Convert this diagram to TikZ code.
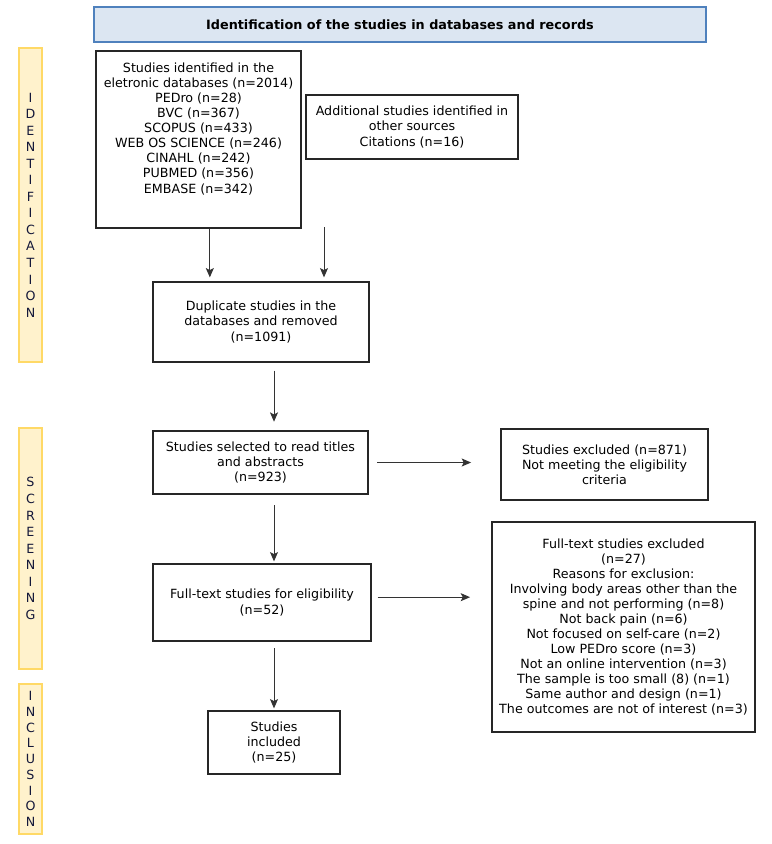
\documentclass[tikz,border=0pt]{standalone}
\usepackage{fontspec}
\setmainfont{DejaVu Sans}
\usetikzlibrary{arrows.meta}
\definecolor{headfill}{HTML}{DCE6F2}
\definecolor{headline}{HTML}{4F81BD}
\definecolor{barfill}{HTML}{FFF2CC}
\definecolor{barline}{HTML}{FFD966}
\definecolor{bartext}{HTML}{14183A}
\begin{document}
\begin{tikzpicture}[x=0.75pt,y=-0.75pt,
    every node/.style={font=\fontsize{9.5}{11.3}\selectfont},
    box/.style={rectangle,draw=black!85,line width=0.9pt,align=center,inner sep=0pt},
    head/.style={rectangle,draw=headline,fill=headfill,line width=1.1pt,inner sep=0pt,
      font=\fontsize{9.6}{11.3}\selectfont\bfseries},
    phase/.style={rectangle,draw=barline,fill=barfill,line width=0.9pt,minimum width=17.25pt,
      align=center,inner sep=0pt,text=bartext,font=\fontsize{9.5}{12.4}\selectfont},
    arr/.style={-{Stealth[length=7pt,width=6pt,inset=1.5pt]},line width=0.75pt,draw=black!80}]
  \useasboundingbox (0,0) rectangle (772,844);

  % title and phases
  \node[head,minimum width=459pt,minimum height=26.25pt] (title) at (400,24.5)
    {Identification of the studies in databases and records};
  \node[phase,minimum height=235.5pt] (ident) at (30.5,205)
    {I\\D\\E\\N\\T\\I\\F\\I\\C\\A\\T\\I\\O\\N};
  \node[phase,minimum height=180.75pt] (screen) at (30.5,548.5)
    {S\\C\\R\\E\\E\\N\\I\\N\\G};
  \node[phase,minimum height=112.5pt,font=\fontsize{9.5}{11.8}\selectfont] (incl) at (30.5,759)
    {I\\N\\C\\L\\U\\S\\I\\O\\N};

  % boxes
  \node[box,minimum width=153.75pt,minimum height=132.75pt] (dbs) at (198.5,139.5)
    {Studies identified in the\\eletronic databases (n=2014)\\PEDro (n=28)\\BVC (n=367)\\
     SCOPUS (n=433)\\WEB OS SCIENCE (n=246)\\CINAHL (n=242)\\PUBMED (n=356)\\EMBASE (n=342)\\[6pt]};
  \node[box,minimum width=159pt,minimum height=48pt] (other) at (412,127)
    {Additional studies identified in\\other sources\\Citations (n=16)};
  \node[box,minimum width=162pt,minimum height=60pt] (dup) at (261,322)
    {Duplicate studies in the\\databases and removed\\(n=1091)};
  \node[box,minimum width=161.25pt,minimum height=47.25pt] (titles) at (260.5,462.5)
    {Studies selected to read titles\\and abstracts\\(n=923)};
  \node[box,minimum width=155.25pt,minimum height=53.25pt] (excl) at (604.5,464.5)
    {Studies excluded (n=871)\\Not meeting the eligibility\\criteria};
  \node[box,minimum width=163.5pt,minimum height=57.75pt] (full) at (262,602.5)
    {Full-text studies for eligibility\\(n=52)};
  \node[box,minimum width=197.25pt,minimum height=157.5pt] (fullexcl) at (623.5,627)
    {Full-text studies excluded\\(n=27)\\Reasons for exclusion:\\
     Involving body areas other than the\\spine and not performing (n=8)\\
     Not back pain (n=6)\\Not focused on self-care (n=2)\\Low PEDro score (n=3)\\
     Not an online intervention (n=3)\\The sample is too small (8) (n=1)\\
     Same author and design (n=1)\\The outcomes are not of interest (n=3)};
  \node[box,minimum width=99pt,minimum height=47.25pt] (incd) at (274,742.5)
    {Studies\\included\\(n=25)};

  % arrows
  \coordinate (otherdown) at (324,227);
  \draw[arr,shorten >=3pt] ([xshift=8.5pt]dbs.south) -- ([xshift=8.5pt]dbs.south |- dup.north);
  \draw[arr,shorten >=3pt] (otherdown) -- (otherdown |- dup.north);
  \draw[arr,shorten <=6pt,shorten >=6.5pt] (dup.south -| incd) -- (titles.north -| incd);
  \draw[arr,shorten <=6.5pt,shorten >=22pt] (titles.east) -- (titles.east -| excl.west);
  \draw[arr,shorten <=8pt,shorten >=1.5pt] (titles.south -| incd) -- (full.north -| incd);
  \draw[arr,shorten <=4.5pt,shorten >=16pt] ([yshift=4pt]full.east) -- ([yshift=4pt]full.east -| fullexcl.west);
  \draw[arr,shorten <=5pt,shorten >=1.5pt] (full.south -| incd) -- (incd.north);
\end{tikzpicture}
\end{document}
